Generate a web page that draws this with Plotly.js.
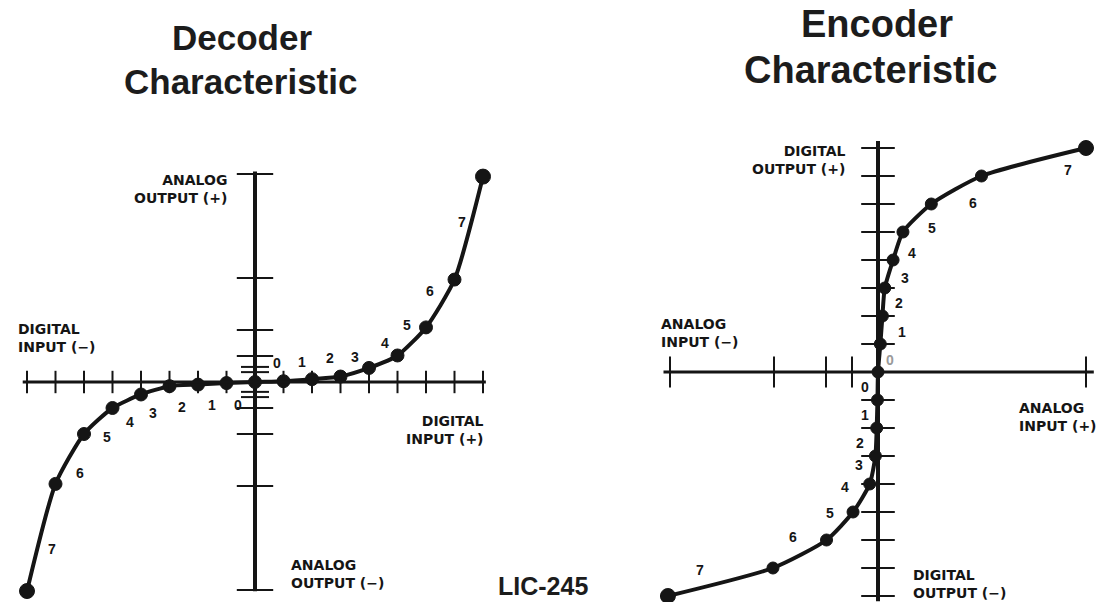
<!DOCTYPE html>
<html>
<head>
<meta charset="utf-8">
<script src="https://cdn.plot.ly/plotly-3.0.1.min.js"></script>
<style>
  html, body { margin: 0; padding: 0; background: #ffffff; }
  #chart { width: 1101px; height: 602px; }
</style>
</head>
<body>
<div id="chart"></div>
<script>
// ---------------- DATA ----------------
// Decoder: digital input code (segment end points) -> analog output
const decoderCodes  = [-8, -7, -6, -5, -4, -3, -2, -1, 0, 1, 2, 3, 4, 5, 6, 7, 8];
const decoderOutput = [-8.04, -3.92, -2.0, -1.0, -0.48, -0.16, -0.1, -0.04, 0, 0.03, 0.11, 0.21, 0.54, 1.02, 2.1, 3.94, 7.9];

// Encoder: analog input -> digital output code (segment end points)
const encoderCodes = [-8, -7, -6, -5, -4, -3, -2, -1, 0, 1, 2, 3, 4, 5, 6, 7, 8];
const encoderInput = [-8.08, -4.04, -1.98, -0.96, -0.32, -0.1, -0.05, -0.02, 0, 0.09, 0.17, 0.26, 0.58, 0.96, 2.05, 3.98, 8.0];

// Tick values
const decoderXTicks = [-8, -7, -6, -5, -4, -3, -2, -1, 1, 2, 3, 4, 5, 6, 7, 8];
const decoderYTicksMajor = [-8, -4, -2, -1, 1, 2, 4, 8];
const decoderYTicksMinor = [-0.58, -0.38, 0.38, 0.58];
const encoderXTicks = [-8, -4, -2, -1, 8];
const encoderYTicks = [-8, -7, -6, -5, -4, -3, -2, -1, 1, 2, 3, 4, 5, 6, 7, 8];

// Segment labels
const segmentLabels = ['0', '1', '2', '3', '4', '5', '6', '7'];

// Text
const decoderTitle = ['Decoder', 'Characteristic'];
const encoderTitle = ['Encoder', 'Characteristic'];
const sourceTag = 'LIC-245';

// ---------------- STYLE / PLACEMENT ----------------
const INK = '#151515';
const W = 1101, H = 602;
const px = x => x / W;
const py = y => 1 - y / H;

// pixel shifts of segment labels from segment midpoints [xshift, yshift(up)]
const decPosShift = [[8,19],[4,18],[4,20],[0,15],[2,19],[-5,16],[-10,12],[-7,6]];
const decNegShift = [[-3,-22],[0,-21],[-2,-22],[-2,-23],[3,-21],[9,-16],[10,-14],[11,-12]];
const encPosShift = [[11,-2],[21,-2],[15,-1],[16,-4],[14,-7],[15,-10],[17,-13],[34,-8]];
const encNegShift = [[-13,-1],[-12,-1],[-16,-1],[-14,5],[-16,11],[-10,13],[-7,17],[-20,12]];

function idxOf(arr, v) { return arr.indexOf(v); }

const traces = [];

// Decoder curve
traces.push({
  x: decoderCodes, y: decoderOutput, xaxis: 'x', yaxis: 'y',
  mode: 'lines+markers', cliponaxis: false, hoverinfo: 'skip',
  line: { color: INK, width: 4, shape: 'spline', smoothing: 0.6 },
  marker: { color: INK, opacity: 1, line: { color: INK, width: 1 },
            size: decoderCodes.map((c, i) => (i === 0 || i === decoderCodes.length - 1) ? 15 : 13) }
});
// Decoder ticks
traces.push({
  x: decoderXTicks, y: decoderXTicks.map(() => 0), xaxis: 'x', yaxis: 'y',
  mode: 'markers', cliponaxis: false, hoverinfo: 'skip',
  marker: { symbol: 'line-ns', size: 16, line: { color: INK, width: 2 } }
});
traces.push({
  x: decoderYTicksMajor.map(() => 0), y: decoderYTicksMajor, xaxis: 'x', yaxis: 'y',
  mode: 'markers', cliponaxis: false, hoverinfo: 'skip',
  marker: { symbol: 'line-ew', size: 26, line: { color: INK, width: 2 } }
});
traces.push({
  x: decoderYTicksMinor.map(() => 0), y: decoderYTicksMinor, xaxis: 'x', yaxis: 'y',
  mode: 'markers', cliponaxis: false, hoverinfo: 'skip',
  marker: { symbol: 'line-ew', size: 20, line: { color: INK, width: 2 } }
});

// Encoder curve
traces.push({
  x: encoderInput, y: encoderCodes, xaxis: 'x2', yaxis: 'y2',
  mode: 'lines+markers', cliponaxis: false, hoverinfo: 'skip',
  line: { color: INK, width: 4, shape: 'spline', smoothing: 0.6 },
  marker: { color: INK, opacity: 1, line: { color: INK, width: 1 },
            size: encoderCodes.map((c, i) => (i === 0 || i === encoderCodes.length - 1) ? 15 : 12) }
});
// Encoder ticks
traces.push({
  x: encoderXTicks, y: encoderXTicks.map(() => 0), xaxis: 'x2', yaxis: 'y2',
  mode: 'markers', cliponaxis: false, hoverinfo: 'skip',
  marker: { symbol: 'line-ns', size: 22, line: { color: INK, width: 2 } }
});
traces.push({
  x: encoderYTicks.map(() => 0), y: encoderYTicks, xaxis: 'x2', yaxis: 'y2',
  mode: 'markers', cliponaxis: false, hoverinfo: 'skip',
  marker: { symbol: 'line-ew', size: 24, line: { color: INK, width: 2 } }
});

// Axis lines as shapes
const shapes = [
  { type: 'line', xref: 'x', yref: 'y', x0: -8.15, x1: 8.1, y0: 0, y1: 0, line: { color: INK, width: 3 } },
  { type: 'line', xref: 'x', yref: 'y', x0: 0, x1: 0, y0: -8.05, y1: 8.1, line: { color: INK, width: 4 } },
  { type: 'line', xref: 'x2', yref: 'y2', x0: -8.25, x1: 8.3, y0: 0, y1: 0, line: { color: INK, width: 3 } },
  { type: 'line', xref: 'x2', yref: 'y2', x0: 0, x1: 0, y0: -8.2, y1: 8.25, line: { color: INK, width: 4 } }
];

const annotations = [];
function addText(text, x, y, size, opts) {
  annotations.push(Object.assign({
    text: text, xref: 'paper', yref: 'paper', x: px(x), y: py(y),
    showarrow: false, borderpad: 0,
    font: { family: 'DejaVu Sans', size: size, color: INK, weight: 700 },
    xanchor: 'center', yanchor: 'middle', align: 'center'
  }, opts || {}));
}

// Titles
const titleFont = (s) => ({ font: { family: 'Liberation Sans, Arial, sans-serif', size: s, color: '#1c1c1c', weight: 700 } });
addText(decoderTitle[0], 242, 37, 35, titleFont(35));
addText(decoderTitle[1], 240, 81, 35, titleFont(35));
addText(encoderTitle[0], 877, 24, 38, titleFont(38));
addText(encoderTitle[1], 870, 70, 38, titleFont(38));

// Axis captions
const capSize = 14;
addText('ANALOG<br>OUTPUT (+)', 228, 188.5, capSize, { xanchor: 'right', align: 'right' });
addText('DIGITAL<br>INPUT (−)', 17, 337.5, capSize, { xanchor: 'left', align: 'left' });
addText('DIGITAL<br>INPUT (+)', 485, 429.5, capSize, { xanchor: 'right', align: 'right' });
addText('ANALOG<br>OUTPUT (−)', 290, 574, capSize, { xanchor: 'left', align: 'left' });
addText('DIGITAL<br>OUTPUT (+)', 846, 160, capSize, { xanchor: 'right', align: 'right' });
addText('ANALOG<br>INPUT (−)', 660, 332.5, capSize, { xanchor: 'left', align: 'left' });
addText('ANALOG<br>INPUT (+)', 1018, 416.5, capSize, { xanchor: 'left', align: 'left' });
addText('DIGITAL<br>OUTPUT (−)', 912, 584, capSize, { xanchor: 'left', align: 'left' });
addText(sourceTag, 543, 586, 25, { font: { family: 'Liberation Sans, Arial, sans-serif', size: 25, color: '#1c1c1c', weight: 700 } });

// Segment labels
const labelFont = { family: 'Liberation Sans, Arial, sans-serif', size: 14, color: INK, weight: 700 };
function segLabel(xref, yref, a, b, k, shift, color) {
  annotations.push({
    text: segmentLabels[k], xref: xref, yref: yref,
    x: (a[0] + b[0]) / 2, y: (a[1] + b[1]) / 2,
    xshift: shift[0], yshift: shift[1], showarrow: false, borderpad: 0,
    font: Object.assign({}, labelFont, color ? { color: color } : {}),
    xanchor: 'center', yanchor: 'middle'
  });
}
for (let k = 0; k < 8; k++) {
  // decoder positive: between code k and k+1
  let i = idxOf(decoderCodes, k), j = idxOf(decoderCodes, k + 1);
  segLabel('x', 'y', [decoderCodes[i], decoderOutput[i]], [decoderCodes[j], decoderOutput[j]], k, decPosShift[k]);
  // decoder negative
  i = idxOf(decoderCodes, -k); j = idxOf(decoderCodes, -(k + 1));
  segLabel('x', 'y', [decoderCodes[i], decoderOutput[i]], [decoderCodes[j], decoderOutput[j]], k, decNegShift[k]);
  // encoder positive
  i = idxOf(encoderCodes, k); j = idxOf(encoderCodes, k + 1);
  segLabel('x2', 'y2', [encoderInput[i], encoderCodes[i]], [encoderInput[j], encoderCodes[j]], k, encPosShift[k], k === 0 ? '#9a9a9a' : null);
  // encoder negative
  i = idxOf(encoderCodes, -k); j = idxOf(encoderCodes, -(k + 1));
  segLabel('x2', 'y2', [encoderInput[i], encoderCodes[i]], [encoderInput[j], encoderCodes[j]], k, encNegShift[k]);
}

const hidden = { visible: false, fixedrange: true };
const layout = {
  width: W, height: H,
  margin: { l: 0, r: 0, t: 0, b: 0 },
  paper_bgcolor: '#ffffff', plot_bgcolor: 'rgba(0,0,0,0)',
  showlegend: false,
  xaxis: Object.assign({ domain: [px(9.9), px(500.1)], range: [-8.6, 8.6], anchor: 'y' }, hidden),
  yaxis: Object.assign({ domain: [py(597.8), py(166.2)], range: [-8.3, 8.3], anchor: 'x' }, hidden),
  xaxis2: Object.assign({ domain: [px(657), px(1099)], range: [-8.5, 8.5], anchor: 'y2' }, hidden),
  yaxis2: Object.assign({ domain: [py(601.6), py(131.2)], range: [-8.2, 8.6], anchor: 'x2' }, hidden),
  shapes: shapes,
  annotations: annotations
};

Plotly.newPlot('chart', traces, layout, { staticPlot: true, displayModeBar: false });
</script>
</body>
</html>
